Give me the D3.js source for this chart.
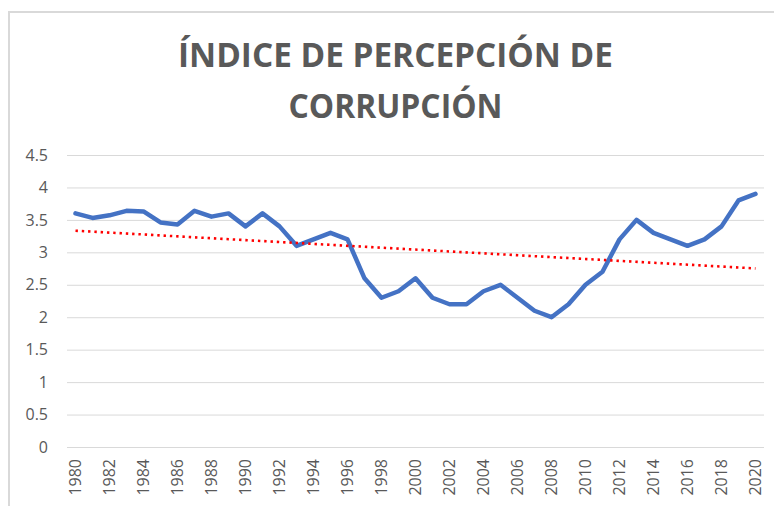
<!DOCTYPE html>
<html>
<head>
<meta charset="utf-8">
<script src="https://cdn.jsdelivr.net/npm/d3@7"></script>
<style>
  body { margin: 0; background: #fff; }
  text { font-family: "Open Sans", "Noto Sans", sans-serif; fill: #595959; }
</style>
</head>
<body>
<div class="chart"></div>
<script>
// data
var years = d3.range(1980, 2021).map(String);
var indice = [3.6, 3.53, 3.57, 3.64, 3.63, 3.46, 3.43, 3.64, 3.55, 3.6, 3.4,
  3.6, 3.4, 3.1, 3.2, 3.3, 3.2, 2.6, 2.3, 2.4, 2.6,
  2.3, 2.2, 2.2, 2.4, 2.5, 2.3, 2.1, 2.0, 2.2, 2.5,
  2.7, 3.2, 3.5, 3.3, 3.2, 3.1, 3.2, 3.4, 3.8, 3.9];
var yTicks = [0, 0.5, 1, 1.5, 2, 2.5, 3, 3.5, 4, 4.5];
var titleLines = ["ÍNDICE DE PERCEPCIÓN DE", "CORRUPCIÓN"];

var svgWidth = 774;
var svgHeight = 506;

// plot area
var plot = { left: 67, right: 764, top: 155, bottom: 447 };

var svg = d3.select(".chart")
  .append("svg")
  .attr("width", svgWidth)
  .attr("height", svgHeight);

svg.append("rect")
  .attr("width", svgWidth)
  .attr("height", svgHeight)
  .attr("fill", "#fff");

// chart border (cropped on right and bottom)
svg.append("rect")
  .attr("x", 9)
  .attr("y", 12)
  .attr("width", 900)
  .attr("height", 700)
  .attr("fill", "none")
  .attr("stroke", "#d9d9d9")
  .attr("stroke-width", 2);

// title
var title = svg.append("g");
title.selectAll("text")
  .data(titleLines)
  .enter()
  .append("text")
  .attr("x", 395.5)
  .attr("y", (d, i) => 67 + i * 51)
  .attr("text-anchor", "middle")
  .attr("font-size", "33.6px")
  .attr("font-weight", "bold")
  .attr("textLength", (d, i) => i === 0 ? 435 : 214)
  .attr("lengthAdjust", "spacingAndGlyphs")
  .text(d => d);

var xScale = d3.scaleBand()
  .domain(years)
  .range([plot.left, plot.right]);

var yScale = d3.scaleLinear()
  .domain([0, 4.5])
  .range([plot.bottom, plot.top]);

// gridlines + y labels
var yAxis = svg.append("g")
  .attr("transform", `translate(${plot.left}, 0)`)
  .call(d3.axisLeft(yScale)
    .tickValues(yTicks)
    .tickFormat(d => String(d))
    .tickSize(-(plot.right - plot.left))
    .tickPadding(19));
yAxis.select(".domain").remove();
yAxis.selectAll(".tick line")
  .attr("stroke", "#d9d9d9")
  .attr("stroke-width", 1);
yAxis.selectAll(".tick text")
  .attr("font-size", "16px")
  .attr("fill", "#595959")
  .attr("font-family", "\"Open Sans\", sans-serif");

// x labels, rotated
var xAxis = svg.append("g")
  .attr("transform", `translate(0, ${plot.bottom})`)
  .call(d3.axisBottom(xScale)
    .tickValues(years.filter((d, i) => i % 2 === 0))
    .tickSize(0));
xAxis.select(".domain").remove();
xAxis.selectAll(".tick text")
  .attr("font-size", "16px")
  .attr("fill", "#595959")
  .attr("font-family", "\"Open Sans\", sans-serif")
  .attr("text-anchor", "end")
  .attr("transform", "rotate(-90)")
  .attr("x", -12)
  .attr("y", 0)
  .attr("dy", "0.36em");

var cx = d => xScale(d) + xScale.bandwidth() / 2;

// linear trendline (least squares, like the spreadsheet one)
var n = indice.length;
var xm = d3.mean(d3.range(n));
var ym = d3.mean(indice);
var sxy = d3.sum(indice, (v, i) => (i - xm) * (v - ym));
var sxx = d3.sum(d3.range(n), i => (i - xm) * (i - xm));
var slope = sxy / sxx;
var icpt = ym - slope * xm;
var trend = [0, n - 1].map(i => ({ year: years[i], value: icpt + slope * i }));

svg.append("path")
  .datum(indice)
  .attr("fill", "none")
  .attr("stroke", "#4472c4")
  .attr("stroke-width", 4.5)
  .attr("stroke-linejoin", "round")
  .attr("stroke-linecap", "round")
  .attr("d", d3.line()
    .x((d, i) => cx(years[i]))
    .y(d => yScale(d)));

svg.append("path")
  .datum(trend)
  .attr("fill", "none")
  .attr("stroke", "#ff0000")
  .attr("stroke-width", 2.6)
  .attr("stroke-dasharray", "2.4 3.9")
  .attr("d", d3.line()
    .x(d => cx(d.year))
    .y(d => yScale(d.value)));
</script>
</body>
</html>
